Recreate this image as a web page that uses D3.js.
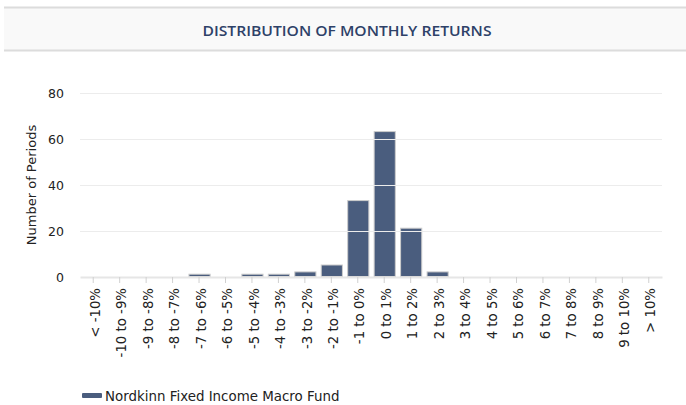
<!DOCTYPE html>
<html><head><meta charset="utf-8">
<script src="https://cdn.jsdelivr.net/npm/d3@7"></script>
<style>body{margin:0;background:#fff}svg{display:block}</style>
</head><body>
<script>
const categories = ["< -10%","-10 to -9%","-9 to -8%","-8 to -7%","-7 to -6%","-6 to -5%","-5 to -4%","-4 to -3%","-3 to -2%","-2 to -1%","-1 to 0%","0 to 1%","1 to 2%","2 to 3%","3 to 4%","4 to 5%","5 to 6%","6 to 7%","7 to 8%","8 to 9%","9 to 10%","> 10%"];
const values = [0,0,0,0,1,0,1,1,2,5,33,63,21,2,0,0,0,0,0,0,0,0];
const yTicks = [0,20,40,60,80];
const seriesName = "Nordkinn Fixed Income Macro Fund";
const title = "DISTRIBUTION OF MONTHLY RETURNS";

(function(){
const W = 686, H = 405;
const svg = d3.select("body").append("svg").attr("width", W).attr("height", H);
const font = "DejaVu Sans, Verdana, sans-serif";

// title banner
svg.append("rect").attr("x",4).attr("y",8).attr("width",W-4).attr("height",43).attr("fill","#f9f9f9");
svg.append("line").attr("x1",4).attr("x2",W).attr("y1",7.5).attr("y2",7.5).attr("stroke","#dcdcdc").attr("stroke-width",2);
svg.append("line").attr("x1",4).attr("x2",W).attr("y1",50.5).attr("y2",50.5).attr("stroke","#dcdcdc").attr("stroke-width",2);
svg.append("text").attr("x",347).attr("y",36).attr("text-anchor","middle")
  .attr("font-family","Open Sans, sans-serif").attr("font-weight",600).attr("font-size",15)
  .attr("textLength",289).attr("lengthAdjust","spacingAndGlyphs")
  .attr("fill","#2e4168").text(title);

const pl = 80, pr = 662, pt = 93, pb = 277;
const x = d3.scaleBand().domain(categories).range([pl, pr]).paddingInner(0.2).paddingOuter(0.1);
const y = d3.scaleLinear().domain([0,80]).range([pb, pt]);

// bars
svg.append("g").selectAll("rect").data(values).join("rect")
  .attr("x",(d,i)=>x(categories[i])+0.5)
  .attr("width", x.bandwidth())
  .attr("y", d=>y(d)-0.5)
  .attr("height", d=>Math.max(0, pb - y(d)))
  .attr("fill","#4a5d7e").attr("stroke","#cccccc").attr("stroke-width",1);

// grid (drawn over bars)
const gy = svg.append("g").attr("transform",`translate(${pl},0)`)
  .call(d3.axisLeft(y).tickValues(yTicks).tickSize(-(pr-pl)).tickFormat(""));
gy.select(".domain").remove();
gy.selectAll(".tick line").attr("stroke","#ececec").attr("stroke-width",1);
gy.selectAll(".tick").filter(d=>d===0).remove();

// y labels
const yl = svg.append("g").attr("transform",`translate(${pl},0)`)
  .call(d3.axisLeft(y).tickValues(yTicks).tickSize(0).tickPadding(16));
yl.select(".domain").remove();
yl.selectAll("text").attr("font-family",font).attr("font-size",12.5).attr("fill","#222");

svg.append("text").attr("transform",`translate(36,185) rotate(-90)`).attr("text-anchor","middle")
  .attr("font-family",font).attr("font-size",13).attr("fill","#222").text("Number of Periods");

// x axis
const xa = svg.append("g").attr("transform",`translate(0,${pb})`)
  .call(d3.axisBottom(x).tickSize(6).tickSizeOuter(0));
xa.select(".domain").attr("stroke","#e6e6e6").attr("stroke-width",2);
xa.selectAll(".tick line").attr("stroke","#d0d0d0");
xa.selectAll("text").attr("font-family",font).attr("font-size",13.3).attr("fill","#222")
  .attr("text-anchor","end").attr("transform","rotate(-90)")
  .attr("x",-11).attr("y",2).attr("dy","0.35em");

// legend
svg.append("rect").attr("x",82).attr("y",393).attr("width",20).attr("height",5).attr("fill","#4a5d7e").attr("rx",1);
svg.append("text").attr("x",105).attr("y",401).attr("font-family",font).attr("font-size",13.4).attr("fill","#222").text(seriesName);
})();
</script>
</body></html>
